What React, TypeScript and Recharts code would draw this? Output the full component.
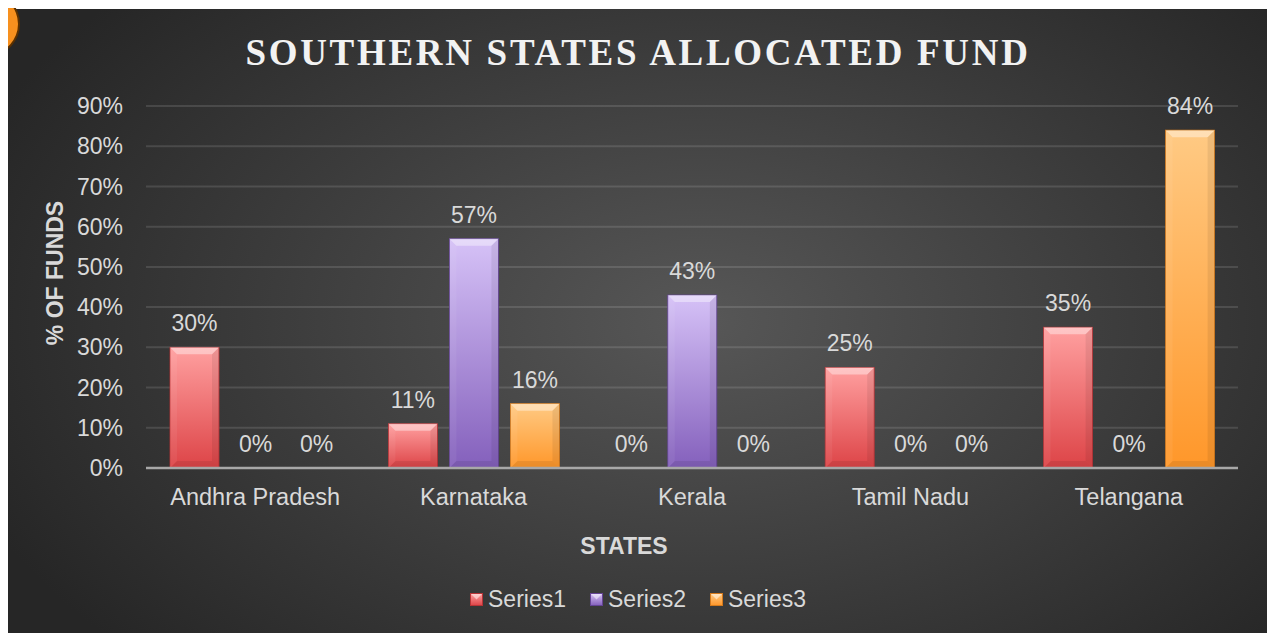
import React from 'react';
import { BarChart, Bar, XAxis, YAxis, CartesianGrid, LabelList, Legend, Label } from 'recharts';

const STATES = ['Andhra Pradesh', 'Karnataka', 'Kerala', 'Tamil Nadu', 'Telangana'];
const SERIES1 = [30, 11, 0, 25, 35];
const SERIES2 = [0, 57, 43, 0, 0];
const SERIES3 = [0, 16, 0, 0, 84];
const Y_TICKS = [0, 10, 20, 30, 40, 50, 60, 70, 80, 90];
const SERIES_NAMES = ['Series1', 'Series2', 'Series3'];

const chartData = STATES.map((state, i) => ({
  state,
  s1: SERIES1[i],
  s2: SERIES2[i],
  s3: SERIES3[i],
}));

// top / bottom colours of each bar gradient
const GRADS = [
  { id: 'g1', top: '#ffa0a0', bottom: '#dd4447', edge: '#b83336' },
  { id: 'g2', top: '#d6c2f7', bottom: '#8460bc', edge: '#644496' },
  { id: 'g3', top: '#ffca84', bottom: '#ff972a', edge: '#d57a1c' },
];

const FONT = '"Liberation Sans", Arial, sans-serif';
const TEXT = '#d9d9d9';

const bevelShape = (gi: number) => (props: any) => {
  const { x, y, width, height } = props;
  if (!height || height <= 0) return <g />;
  const b = Math.min(7, height / 2, width / 2);
  const g = GRADS[gi];
  return (
    <g>
      <rect x={x} y={y} width={width} height={height} fill={`url(#${g.id})`} stroke={g.edge} strokeWidth={0.8} />
      <polygon
        points={`${x},${y} ${x + width},${y} ${x + width - b},${y + b} ${x + b},${y + b}`}
        fill="#ffffff"
        fillOpacity={0.4}
      />
      <polygon
        points={`${x},${y} ${x + b},${y + b} ${x + b},${y + height - b} ${x},${y + height}`}
        fill="#ffffff"
        fillOpacity={0.06}
      />
      <polygon
        points={`${x + width},${y} ${x + width - b},${y + b} ${x + width - b},${y + height - b} ${x + width},${y + height}`}
        fill="#000000"
        fillOpacity={0.07}
      />
      <polygon
        points={`${x},${y + height} ${x + b},${y + height - b} ${x + width - b},${y + height - b} ${x + width},${y + height}`}
        fill="#000000"
        fillOpacity={0.08}
      />
    </g>
  );
};

const LegendIcon = ({ gi }: { gi: number }) => {
  const g = GRADS[gi];
  return (
    <svg width={13} height={13} style={{ marginRight: 5 }}>
      <defs>
        <linearGradient id={`lg${gi}`} x1="0" y1="0" x2="0" y2="1">
          <stop offset="0%" stopColor={g.top} />
          <stop offset="100%" stopColor={g.bottom} />
        </linearGradient>
      </defs>
      <rect x={0.5} y={0.5} width={12} height={12} fill={`url(#lg${gi})`} stroke={g.edge} strokeWidth={1} />
      <polygon points="1,1 12,1 6.5,6.5" fill="#ffffff" fillOpacity={0.5} />
    </svg>
  );
};

const renderLegend = () => (
  <div
    style={{
      display: 'flex',
      justifyContent: 'center',
      alignItems: 'center',
      height: 40,
      fontFamily: FONT,
      fontSize: 23,
      color: TEXT,
    }}
  >
    {SERIES_NAMES.map((name, i) => (
      <div key={name} style={{ display: 'flex', alignItems: 'center', marginRight: i < 2 ? 24 : 0 }}>
        <LegendIcon gi={i} />
        <span>{name}</span>
      </div>
    ))}
  </div>
);

const YTitle = (props: any) => {
  const { viewBox } = props;
  const cx = viewBox.x + 47;
  const cy = viewBox.y + viewBox.height / 2 - 14;
  return (
    <text
      x={cx}
      y={cy}
      transform={`rotate(-90, ${cx}, ${cy})`}
      textAnchor="middle"
      dominantBaseline="central"
      fill={TEXT}
      fontFamily={FONT}
      fontWeight="bold"
      fontSize={23}
    >
      % OF FUNDS
    </text>
  );
};

const XTitle = (props: any) => {
  const { viewBox } = props;
  return (
    <text
      x={viewBox.x + viewBox.width / 2 - 68}
      y={viewBox.y + 78}
      textAnchor="middle"
      dominantBaseline="central"
      fill={TEXT}
      fontFamily={FONT}
      fontWeight="bold"
      fontSize={23}
    >
      STATES
    </text>
  );
};

const App: React.FC = () => {
  const labelStyle = { fill: TEXT, fontSize: 23, fontFamily: FONT };
  return (
    <div style={{ position: 'relative', width: 1260, height: 624, marginTop: 1 }}>
      {/* orange blob peeking in at the top-left corner */}
      <div
        style={{
          position: 'absolute',
          left: -46,
          top: -16,
          width: 54,
          height: 58,
          borderRadius: '50%',
          background: '#f7901e',
          border: '2px solid #5a3000',
          zIndex: 2,
        }}
      />
      <div
        style={{
          position: 'absolute',
          inset: 0,
          background: 'radial-gradient(ellipse 62% 78% at 55% 50%, #575757 0%, #3c3c3c 55%, #262626 100%)',
        }}
      />
      <div
        style={{
          position: 'absolute',
          top: 24,
          left: 0,
          width: 1260,
          textAlign: 'center',
          fontFamily: '"Liberation Serif", "Times New Roman", serif',
          fontWeight: 'bold',
          fontSize: 37,
          letterSpacing: 2.7,
          color: '#f2f2f2',
          lineHeight: '40px',
        }}
      >
        SOUTHERN STATES ALLOCATED FUND
      </div>
      <div style={{ position: 'absolute', inset: 0 }}>
        <BarChart
          width={1260}
          height={624}
          data={chartData}
          margin={{ top: 97, right: 30, left: 0, bottom: 0 }}
          barSize={49}
          barGap={12}
        >
          <defs>
            {GRADS.map(g => (
              <linearGradient key={g.id} id={g.id} x1="0" y1="0" x2="0" y2="1">
                <stop offset="0%" stopColor={g.top} />
                <stop offset="100%" stopColor={g.bottom} />
              </linearGradient>
            ))}
          </defs>
          <CartesianGrid vertical={false} stroke="rgba(255,255,255,0.12)" strokeWidth={2} />
          <XAxis
            dataKey="state"
            height={125}
            tickLine={false}
            tickMargin={14}
            axisLine={{ stroke: '#a8a8a8', strokeWidth: 2.5 }}
            tick={{ fill: TEXT, fontSize: 23.5, fontFamily: FONT }}
          >
            <Label content={<XTitle />} />
          </XAxis>
          <YAxis
            width={138}
            domain={[0, 90]}
            ticks={Y_TICKS}
            interval={0}
            tickFormatter={(v: number) => `${v}%`}
            tickLine={false}
            axisLine={false}
            tickMargin={17}
            tick={{ fill: TEXT, fontSize: 23, fontFamily: FONT }}
          >
            <Label content={<YTitle />} />
          </YAxis>
          <Legend content={renderLegend} wrapperStyle={{ left: 0, width: 1260, bottom: 14 }} />
          <Bar dataKey="s1" name="Series1" shape={bevelShape(0)} isAnimationActive={false}>
            <LabelList dataKey="s1" position="top" offset={16} formatter={(v: any) => `${v}%`} style={labelStyle} />
          </Bar>
          <Bar dataKey="s2" name="Series2" shape={bevelShape(1)} isAnimationActive={false}>
            <LabelList dataKey="s2" position="top" offset={16} formatter={(v: any) => `${v}%`} style={labelStyle} />
          </Bar>
          <Bar dataKey="s3" name="Series3" shape={bevelShape(2)} isAnimationActive={false}>
            <LabelList dataKey="s3" position="top" offset={16} formatter={(v: any) => `${v}%`} style={labelStyle} />
          </Bar>
        </BarChart>
      </div>
    </div>
  );
};

export default App;
